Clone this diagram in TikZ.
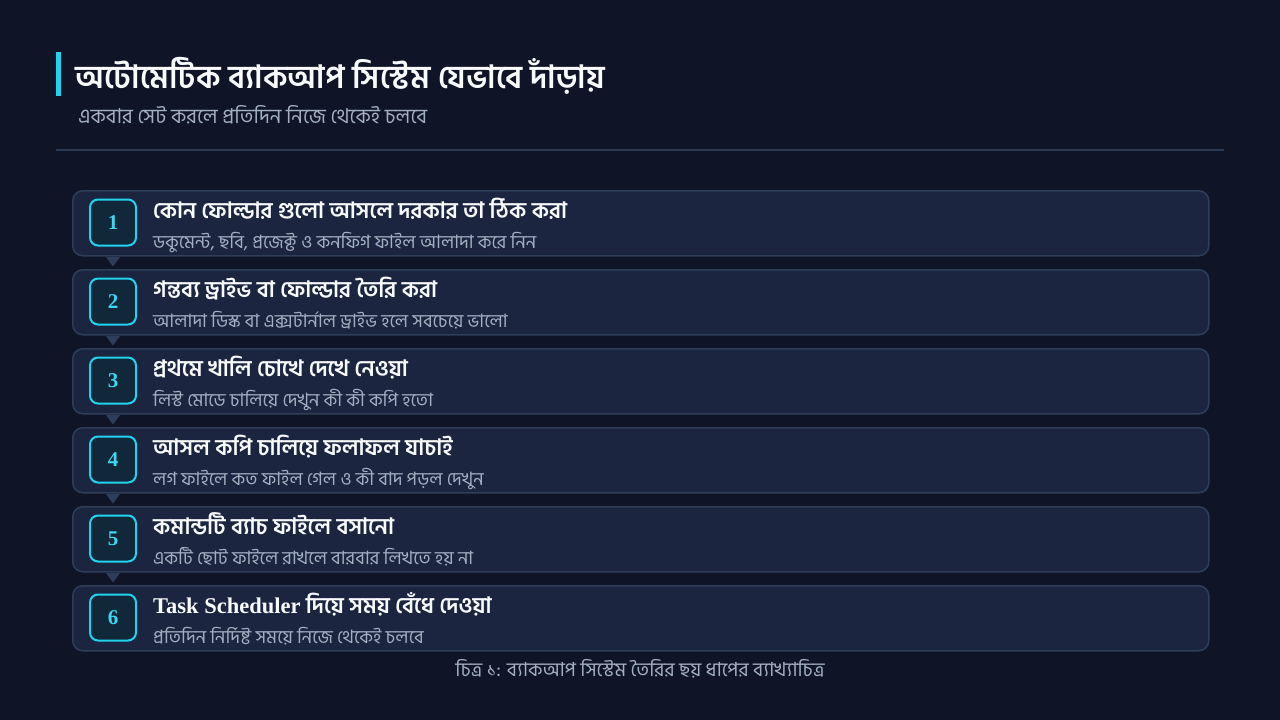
\documentclass[tikz,border=0pt]{standalone}
\usepackage{fontspec}
\newfontfamily\bn[Script=Bengali]{Hind Siliguri}
\newfontfamily\lat{Liberation Serif}
\definecolor{bgc}{HTML}{0F1526}
\definecolor{boxfill}{HTML}{1B2540}
\definecolor{boxline}{HTML}{2E3D5A}
\definecolor{numfill}{HTML}{10283A}
\definecolor{accent}{HTML}{22D3EE}
\definecolor{numtext}{HTML}{3DD6EE}
\definecolor{titlec}{HTML}{F8FAFC}
\definecolor{subc}{HTML}{A3AFC2}
\definecolor{rulec}{HTML}{2B3A55}
\tikzset{
  stepbox/.style={draw=boxline, fill=boxfill, line width=1.5pt, rounded corners=10pt,
    minimum width=1136pt, minimum height=65pt, anchor=north west, inner sep=0pt},
  numbox/.style={draw=accent, fill=numfill, line width=2pt, rounded corners=8pt,
    minimum width=46pt, minimum height=46pt, inner sep=0pt, text=numtext,
    font=\lat\bfseries\fontsize{21}{21}\selectfont},
  steptitle/.style={anchor=base west, inner sep=0pt, text=titlec,
    font=\bn\bfseries\fontsize{22.5}{22.5}\selectfont},
  stepsub/.style={anchor=base west, inner sep=0pt, text=subc,
    font=\bn\fontsize{18.4}{18.4}\selectfont},
  pointer/.style={fill=boxline, draw=none}
}
\begin{document}
\begin{tikzpicture}[x=1pt,y=-1pt]
\fill[bgc] (0,0) rectangle (1280,720);
\useasboundingbox (0,0) rectangle (1280,720);
% header
\fill[accent] (56,52) rectangle (61,96);
\node[anchor=base west, inner sep=0pt, text=titlec, font=\bn\bfseries\fontsize{32}{32}\selectfont] (title) at (75,88) {অটোমেটিক ব্যাকআপ সিস্টেম যেভাবে দাঁড়ায়};
\node[anchor=base west, inner sep=0pt, text=subc, font=\bn\fontsize{20.5}{20.5}\selectfont] (subtitle) at (78,123) {একবার সেট করলে প্রতিদিন নিজে থেকেই চলবে};
\draw[rulec, line width=2pt] (56,150) -- (1224,150);
% steps
\foreach \i/\t/\s in {
 1/{কোন ফোল্ডার গুলো আসলে দরকার তা ঠিক করা}/{ডকুমেন্ট, ছবি, প্রজেক্ট ও কনফিগ ফাইল আলাদা করে নিন},
 2/{গন্তব্য ড্রাইভ বা ফোল্ডার তৈরি করা}/{আলাদা ডিস্ক বা এক্সটার্নাল ড্রাইভ হলে সবচেয়ে ভালো},
 3/{প্রথমে খালি চোখে দেখে নেওয়া}/{লিস্ট মোডে চালিয়ে দেখুন কী কী কপি হতো},
 4/{আসল কপি চালিয়ে ফলাফল যাচাই}/{লগ ফাইলে কত ফাইল গেল ও কী বাদ পড়ল দেখুন},
 5/{কমান্ডটি ব্যাচ ফাইলে বসানো}/{একটি ছোট ফাইলে রাখলে বারবার লিখতে হয় না},
 6/{{\lat\bfseries Task Scheduler} দিয়ে সময় বেঁধে দেওয়া}/{প্রতিদিন নির্দিষ্ট সময়ে নিজে থেকেই চলবে}}
{
 \pgfmathsetmacro{\yy}{190+79*(\i-1)}
 \node[stepbox] (b\i) at (72,\yy) {};
 \node[numbox] (n\i) at (113,\yy+32.5) {\i};
 \node[steptitle] (t\i) at (153,\yy+28) {\t};
 \node[stepsub] (s\i) at (153,\yy+58) {\s};
}
\foreach \i in {1,...,5}{
 \fill[pointer] ([xshift=34pt,yshift=-0.5pt]b\i.south west) -- ([xshift=48pt,yshift=-0.5pt]b\i.south west) -- ([xshift=41pt,yshift=-10pt]b\i.south west) -- cycle;
}
\node[anchor=base, inner sep=0pt, text=subc, font=\bn\fontsize{19.4}{19.4}\selectfont] (caption) at (640,676) {চিত্র ১: ব্যাকআপ সিস্টেম তৈরির ছয় ধাপের ব্যাখ্যাচিত্র};
\end{tikzpicture}
\end{document}
